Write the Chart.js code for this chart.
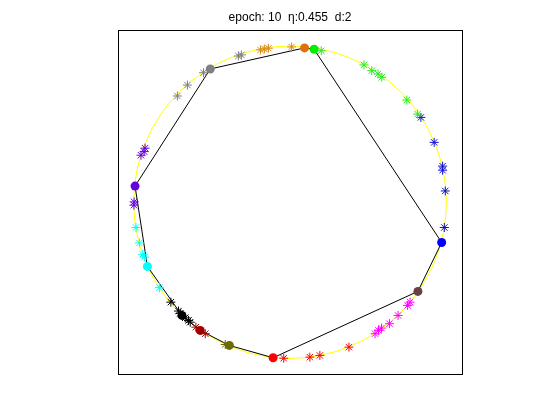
<!DOCTYPE html>
<html>
<head>
<meta charset="utf-8">
<script src="https://cdn.jsdelivr.net/npm/chart.js@4"></script>
<style>
  body { margin: 0; background: #ffffff; }
</style>
</head>
<body>
<canvas id="som-chart" width="560" height="420"></canvas>
<script>
// Узлы сети (порядок обхода кольца)
const nodeX = [-0.510, 0.093, 0.154, 0.970, 0.818, -0.108, -0.388, -0.574, -0.691, -0.912, -0.991];
const nodeY = [0.853, 0.988, 0.979, -0.258, -0.571, -0.996, -0.917, -0.821, -0.725, -0.411, 0.103];
const nodeColors = ['#808080', '#e0700f', '#00ee00', '#0000ff', '#6b4040', '#ff0000',
                    '#6b6b00', '#a00000', '#000000', '#00ffff', '#6600e0'];

// Точки данных по кластерам
const grayStars = [[-0.553, 0.829], [-0.656, 0.750], [-0.720, 0.680], [-0.330, 0.936], [-0.311, 0.943]];
const orangeStars = [[-0.189, 0.975], [-0.164, 0.981], [-0.138, 0.986], [0.010, 0.994]];
const greenStars = [[0.200, 0.970], [0.473, 0.879], [0.523, 0.842], [0.563, 0.821], [0.587, 0.800],
                    [0.747, 0.654], [0.816, 0.564]];
const blueStars = [[0.837, 0.543], [0.922, 0.383], [0.976, 0.231], [0.976, 0.205], [0.993, 0.072], [0.987, -0.162]];
const magentaStars = [[0.768, -0.640], [0.752, -0.661], [0.691, -0.725], [0.636, -0.778], [0.585, -0.806],
                      [0.566, -0.821], [0.544, -0.842]];
const redStars = [[0.377, -0.928], [0.191, -0.981], [0.127, -0.992], [-0.040, -0.999]];
const oliveStars = [[-0.414, -0.911]];
const darkRedStars = [[-0.602, -0.800], [-0.542, -0.842]];
const blackStars = [[-0.762, -0.640], [-0.713, -0.697], [-0.702, -0.712], [-0.670, -0.740], [-0.649, -0.757], [-0.638, -0.768]];
const cyanStars = [[-0.985, -0.162], [-0.963, -0.261], [-0.942, -0.334], [-0.931, -0.351], [-0.835, -0.547]];
const purpleStars = [[-0.927, 0.346], [-0.933, 0.324], [-0.953, 0.301], [-0.997, 0.002], [-0.998, -0.019]];

const starGroups = [
    [grayStars, '#808080'], [orangeStars, '#d98a1a'], [greenStars, '#22ee22'], [blueStars, '#1010d0'],
    [magentaStars, '#ff00ff'], [redStars, '#ff0000'], [oliveStars, '#6b6b00'], [darkRedStars, '#a00000'],
    [blackStars, '#000000'], [cyanStars, '#00ffff'], [purpleStars, '#6600e0']
];

// Окружность (эталонная кривая)
const circleCenter = [0, 0];
const circleRadius = 1;
const axisMin = -1.1, axisMax = 1.1;

const titleText = 'epoch: 10  η:0.455  d:2';

// Плагин: жёлтая окружность под данными и рамка осей
const circlePlugin = {
    id: 'circleAndBox',
    beforeDatasetsDraw(chart) {
        const { ctx, scales: { x, y } } = chart;
        const cx = x.getPixelForValue(circleCenter[0]);
        const cy = y.getPixelForValue(circleCenter[1]);
        const rx = Math.abs(x.getPixelForValue(circleCenter[0] + circleRadius) - cx);
        const ry = Math.abs(y.getPixelForValue(circleCenter[1] + circleRadius) - cy);
        ctx.save();
        ctx.strokeStyle = '#ffff00';
        ctx.lineWidth = 1;
        ctx.beginPath();
        ctx.ellipse(cx, cy, rx, ry, 0, 0, Math.PI * 2);
        ctx.stroke();
        ctx.restore();
    },
    afterDraw(chart) {
        const { ctx, chartArea: a } = chart;
        ctx.save();
        ctx.strokeStyle = '#000000';
        ctx.lineWidth = 1;
        ctx.strokeRect(Math.round(a.left) + 0.5, Math.round(a.top) + 0.5,
                       Math.round(a.right - a.left), Math.round(a.bottom - a.top));
        ctx.restore();
    }
};

// Замкнутая ломаная через узлы
const ringPoints = nodeX.map((v, i) => ({ x: v, y: nodeY[i] }));
ringPoints.push({ x: nodeX[0], y: nodeY[0] });

const datasets = [{
    data: ringPoints,
    showLine: true,
    borderColor: '#000000',
    borderWidth: 1,
    pointRadius: 0,
    order: 3
}];

starGroups.forEach(([pts, color]) => {
    datasets.push({
        data: pts.map(p => ({ x: p[0], y: p[1] })),
        pointStyle: 'star',
        pointRadius: 4.5,
        borderColor: color,
        backgroundColor: color,
        pointBorderWidth: 1,
        borderWidth: 1,
        showLine: false,
        order: 2
    });
});

datasets.push({
    data: nodeX.map((v, i) => ({ x: v, y: nodeY[i] })),
    pointStyle: 'circle',
    pointRadius: 4.5,
    backgroundColor: nodeColors,
    borderColor: nodeColors,
    borderWidth: 0,
    showLine: false,
    order: 1
});

const ctx = document.getElementById('som-chart').getContext('2d');
window.myChart = new Chart(ctx, {
    type: 'scatter',
    data: { datasets },
    options: {
        responsive: false,
        animation: false,
        layout: { padding: { left: 118, right: 98, top: 0, bottom: 46 } },
        scales: {
            x: { display: false, min: axisMin, max: axisMax },
            y: { display: false, min: axisMin, max: axisMax }
        },
        plugins: {
            legend: { display: false },
            tooltip: { enabled: false },
            title: {
                display: true,
                text: titleText,
                color: '#000000',
                font: { family: 'Liberation Sans, Arial, sans-serif', size: 12, weight: 'normal' },
                padding: { top: 10, bottom: 6 }
            }
        }
    },
    plugins: [circlePlugin]
});
</script>
</body>
</html>
